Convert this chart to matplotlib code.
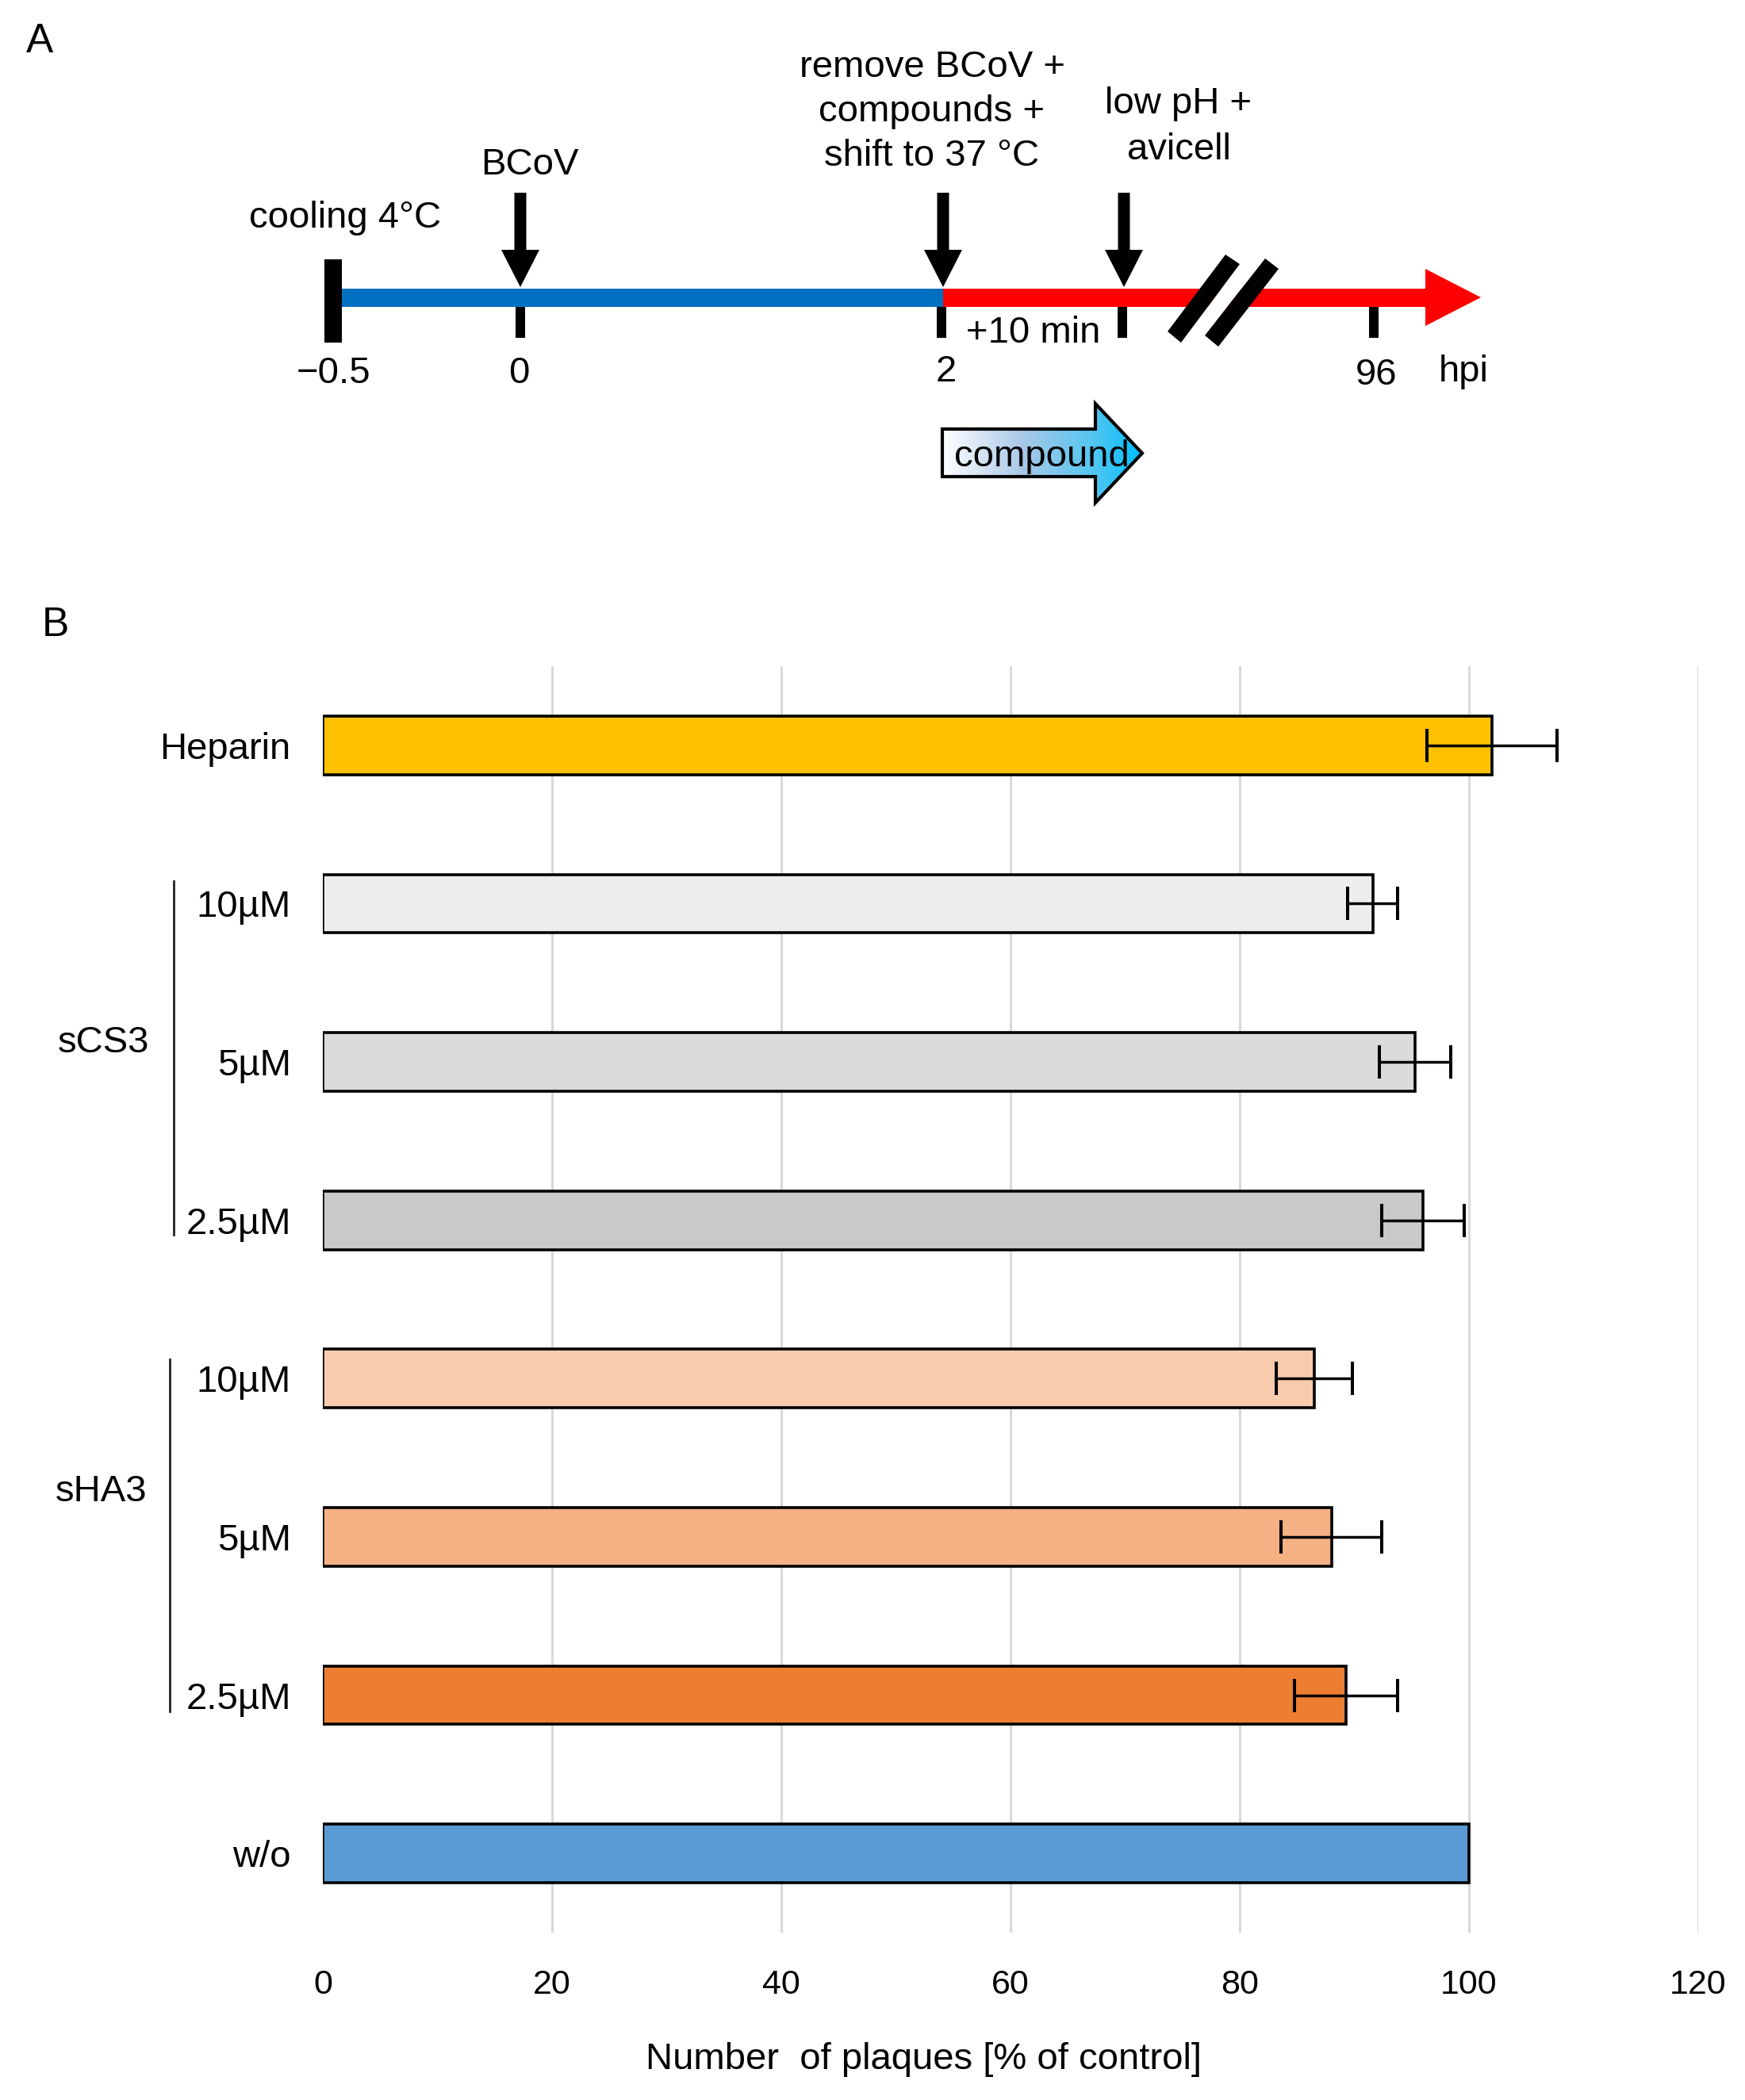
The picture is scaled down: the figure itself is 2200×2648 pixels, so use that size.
import matplotlib
matplotlib.use("Agg")
import matplotlib.pyplot as plt
import matplotlib.transforms as mtransforms
from matplotlib.patches import Rectangle, Polygon
from matplotlib.colors import LinearSegmentedColormap
from matplotlib.lines import Line2D
import numpy as np

plt.rcParams['font.family'] = ['Liberation Sans', 'DejaVu Sans']

# ---------------- data (panel B) ----------------
categories = ['Heparin', '10µM', '5µM', '2.5µM', '10µM', '5µM', '2.5µM', 'w/o']
values = [102.0, 91.6, 95.3, 96.0, 86.5, 88.0, 89.3, 100.0]
errors = [5.7, 2.2, 3.1, 3.6, 3.3, 4.4, 4.5, 0.0]
bar_colors = ['#FFC000', '#EDEDED', '#DBDBDB', '#C9C9C9',
              '#F8CBAD', '#F4B183', '#ED7D31', '#5B9BD5']
group_names = ['sCS3', 'sHA3']
group_members = [[1, 2, 3], [4, 5, 6]]
x_ticks = [0, 20, 40, 60, 80, 100, 120]
x_label = 'Number  of plaques [% of control]'

# ---------------- timeline (panel A) ----------------
time_labels = ['\u22120.5', '0', '2', '96']
event_texts = ['cooling 4°C', 'BCoV', 'remove BCoV +\ncompounds +\nshift to 37 °C',
               'low pH +\navicell']

W, H = 2200, 2648
fig = plt.figure(figsize=(W / 100, H / 100), dpi=100)

# ===== Panel A: schematic in pixel units =====
topH = 780
axA = fig.add_axes([0, 1 - topH / H, 1, topH / H])
axA.set_xlim(0, W)
axA.set_ylim(topH, 0)
axA.axis('off')

fs = 34
yc = 375          # timeline centre
th = 23           # timeline thickness
x_start, x_0, x_2, x_10, x_96 = 431, 656, 1189, 1417, 1732
x_head, x_tip = 1797, 1867

axA.add_patch(Rectangle((x_start, yc - th / 2), x_2 - x_start, th, color='#0070C0', lw=0))
axA.add_patch(Rectangle((x_2, yc - th / 2), x_head - x_2, th, color='#FF0000', lw=0))
axA.add_patch(Polygon([(x_head, yc - 36), (x_head, yc + 36), (x_tip, yc)], closed=True,
                      color='#FF0000', lw=0))
# start tick
axA.add_patch(Rectangle((409, 327), 22, 105, color='black', lw=0))
# small ticks below timeline
for xt in [x_0, x_2 - 2, x_10 - 2, x_96]:
    axA.add_patch(Rectangle((xt - 6, yc + th / 2), 12, 39, color='black', lw=0))

# break marks
axA.add_patch(Polygon([(1489, 432), (1563, 333), (1595, 326), (1519, 423)], closed=True,
                      color='white', lw=0))
axA.add_patch(Polygon([(1472, 418), (1489, 432), (1563, 333), (1545, 321)], closed=True,
                      color='black', lw=0))
axA.add_patch(Polygon([(1519, 423), (1536, 437), (1612, 339), (1595, 326)], closed=True,
                      color='black', lw=0))

# down arrows
def down_arrow(x):
    sw, hw = 7.5, 24
    pts = [(x - sw, 243), (x + sw, 243), (x + sw, 315), (x + hw, 315), (x, 362),
           (x - hw, 315), (x - sw, 315)]
    axA.add_patch(Polygon(pts, closed=True, color='black', lw=0))

for xa in [x_0, x_2, x_10]:
    down_arrow(xa)

# tick labels
for lab, (xx, yy) in zip(time_labels, [(421, 471), (654, 471), (1193, 469), (1735, 473)]):
    axA.text(xx, yy, lab, fontsize=fs, ha='center', va='center')
axA.text(1845, 469, 'hpi', fontsize=fs, ha='center', va='center')
axA.text(1303, 420, '+10 min', fontsize=fs, ha='center', va='center')

axA.text(435, 275, event_texts[0], fontsize=fs, ha='center', va='center')
axA.text(668, 208, event_texts[1], fontsize=fs, ha='center', va='center')
axA.text(1175, 141, event_texts[2], fontsize=fs, ha='center', va='center',
         linespacing=1.36, multialignment='center')
axA.text(1486, 160, event_texts[3], fontsize=fs, ha='center', va='center',
         linespacing=1.4, multialignment='center')

# compound gradient arrow
arrow_pts = [(1188, 541), (1381, 541), (1381, 509), (1440, 571.5), (1381, 634),
             (1381, 601), (1188, 601)]
arrow_patch = Polygon(arrow_pts, closed=True, facecolor='none', edgecolor='black',
                      lw=3, joinstyle='miter', zorder=3)
axA.add_patch(arrow_patch)
cmap = LinearSegmentedColormap.from_list(
    'grad', [(0, '#FFFFFF'), (0.4, '#A9C8E8'), (0.75, '#55C6F0'), (1, '#00BFFF')])
grad = np.linspace(0, 1, 256).reshape(1, -1)
im = axA.imshow(grad, cmap=cmap, extent=[1188, 1440, 634, 509], aspect='auto',
                interpolation='bilinear', zorder=2)
im.set_clip_path(arrow_patch)
axA.set_xlim(0, W)
axA.set_ylim(topH, 0)
axA.text(1313, 576, 'compound', fontsize=fs, ha='center', va='center', zorder=4)

fig.text(33 / W, 1 - 52 / H, 'A', fontsize=37, ha='left', va='center')
fig.text(53 / W, 1 - 788 / H, 'B', fontsize=37, ha='left', va='center')

# ===== Panel B: bar chart =====
axB = fig.add_axes([407 / W, 1 - 2437 / H, 1734 / W, 1597 / H])
idx = np.arange(len(categories))
xerr = [e if e > 0 else np.nan for e in errors]
for v in x_ticks[1:]:
    axB.axvline(v, color='#D9D9D9', lw=2.2, zorder=0)
axB.barh(idx, values, height=0.37, color=bar_colors, edgecolor='black', linewidth=2.6,
         xerr=xerr, error_kw=dict(ecolor='black', elinewidth=2.5, capsize=15,
                                  capthick=2.9), zorder=2)
axB.set_xlim(0, 120)
axB.set_ylim(len(categories) - 0.5, -0.5)
axB.set_xticks(x_ticks)
axB.set_xticklabels([str(t) for t in x_ticks])
axB.set_yticks(idx)
axB.set_yticklabels(categories)
axB.tick_params(axis='x', length=0, labelsize=31, pad=33)
axB.tick_params(axis='y', length=0, labelsize=34, pad=29)
for s in axB.spines.values():
    s.set_visible(False)
axB.set_xlabel(x_label, fontsize=34, va='center')
axB.xaxis.set_label_coords(0.437, -0.1002)

# group brackets
trans = mtransforms.blended_transform_factory(fig.transFigure, axB.transData)
bracket_x = [219, 214]
label_x = [130, 128]
line_ext = [(-0.14, 0.09), (-0.12, 0.10)]
label_off = [-0.12, -0.285]
for g, name in enumerate(group_names):
    m = group_members[g]
    y0 = m[0] + line_ext[g][0]
    y1 = m[-1] + line_ext[g][1]
    fig.add_artist(Line2D([bracket_x[g] / W, bracket_x[g] / W], [y0, y1],
                          transform=trans, color='#222222', lw=2))
    ymid = np.mean(m) + label_off[g]
    fig.text(label_x[g] / W, ymid, name, transform=trans, fontsize=34,
             ha='center', va='center')

fig.savefig('out.png', dpi=100)
